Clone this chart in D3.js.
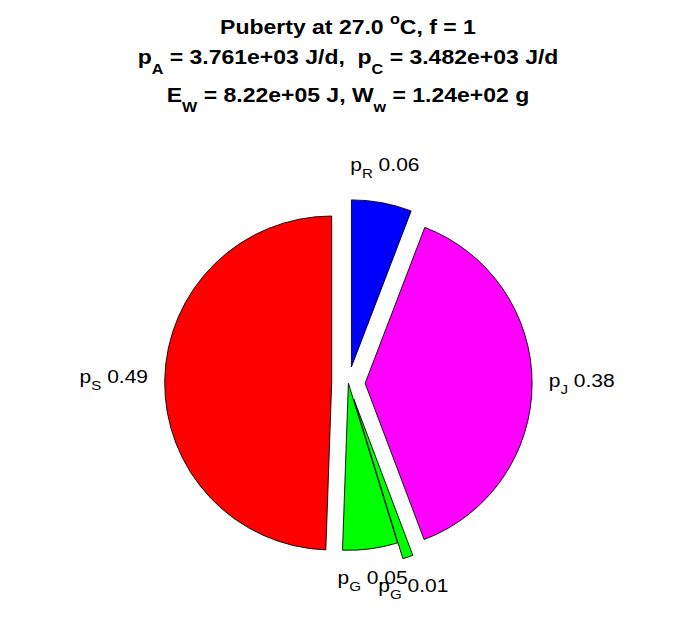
<!DOCTYPE html>
<html><head><meta charset="utf-8">
<script src="https://cdn.jsdelivr.net/npm/d3@7"></script>
<style>
html,body{margin:0;padding:0;background:#fff;}
text{font-family:"Liberation Sans",Arial,Helvetica,sans-serif;white-space:pre;}
</style></head>
<body>
<svg id="chart" width="696" height="618"></svg>
<script>
// ---- data ----
const fluxNames   = ["R", "J", "G", "G", "S"];
const fluxValues  = [0.0582, 0.3843, 0.0100, 0.0531, 0.4944];
const fluxLabels  = ["0.06", "0.38", "0.01", "0.05", "0.49"];
const explodeFlag = [1, 1, 1, 0, 1];
const sliceColors = ["#0000ff", "#ff00ff", "#00ff00", "#00ff00", "#ff0000"];
const titleLines = [
  [{t:"Puberty at 27.0 "},{t:"o",sup:true},{t:"C, f = 1"}],
  [{t:"p"},{t:"A",sub:true},{t:" = 3.761e+03 J/d,  p"},{t:"C",sub:true},{t:" = 3.482e+03 J/d"}],
  [{t:"E"},{t:"W",sub:true},{t:" = 8.22e+05 J, W"},{t:"w",sub:true},{t:" = 1.24e+02 g"}]
];

const svg = d3.select("#chart");
const cx = 348.4, cy = 383.3, R = 167, off = 0.1 * R;

function richText(sel, parts, size, subScale, subShift, supShift) {
  let shift = 0;
  parts.forEach(p => {
    const ts = sel.append("tspan").text(p.t);
    let target = 0;
    if (p.sub) { ts.attr("font-size", size * subScale); target = subShift; }
    else if (p.sup) { ts.attr("font-size", size * subScale); target = -supShift; }
    const dy = target - shift;
    if (dy !== 0) ts.attr("dy", dy);
    shift = target;
  });
}

// title
const titleBase = [34, 63.5, 101.5];
const titleSize = 23, titleSY = 0.86;
titleLines.forEach((parts, i) => {
  const t = svg.append("text")
    .attr("transform", `translate(348,${titleBase[i]}) scale(1,${titleSY})`)
    .attr("text-anchor", "middle")
    .attr("font-weight", "bold")
    .attr("font-size", titleSize);
  richText(t, parts, titleSize, 0.7, 12, 12);
});

// pie
const pie = d3.pie().sort(null).value(d => d.v).startAngle(0).endAngle(2 * Math.PI);
const data = fluxNames.map((n, i) => ({n, v: fluxValues[i], lab: fluxLabels[i], ex: explodeFlag[i], c: sliceColors[i]}));
const arcs = pie(data);
const arc = d3.arc().innerRadius(0).outerRadius(R);

const g = svg.append("g").attr("transform", `translate(${cx},${cy})`);
arcs.forEach(a => {
  const mid = (a.startAngle + a.endAngle) / 2;
  const dx = Math.sin(mid), dy = -Math.cos(mid);
  const ox = a.data.ex * off * dx, oy = a.data.ex * off * dy;
  g.append("path")
    .attr("d", arc(a))
    .attr("transform", `translate(${ox},${oy})`)
    .attr("fill", a.data.c)
    .attr("stroke", "#000")
    .attr("stroke-width", 0.9)
    .attr("stroke-linejoin", "round");
});

arcs.forEach(a => {
  const mid = (a.startAngle + a.endAngle) / 2;
  const dx = Math.sin(mid), dy = -Math.cos(mid);
  const ox = a.data.ex * off * dx, oy = a.data.ex * off * dy;
  const lx = ox + 1.1 * R * dx, ly = oy + 1.1 * R * dy;
  let anchor = "middle";
  if (dx > 0.5) anchor = "start"; else if (dx < -0.5) anchor = "end";
  const fs = 21, sy = 0.88;
  let base;
  if (dy < -0.5) base = ly - 15;       // text above point
  else if (dy > 0.5) base = ly + 19;   // text below point
  else base = ly + 3;                  // centred
  const t = g.append("text")
    .attr("transform", `translate(${lx},${base}) scale(1,${sy})`)
    .attr("text-anchor", anchor)
    .attr("font-size", fs);
  richText(t, [{t:"p"},{t:a.data.n,sub:true},{t:" " + a.data.lab}], fs, 0.72, 8, 0);
});
</script>
</body></html>
